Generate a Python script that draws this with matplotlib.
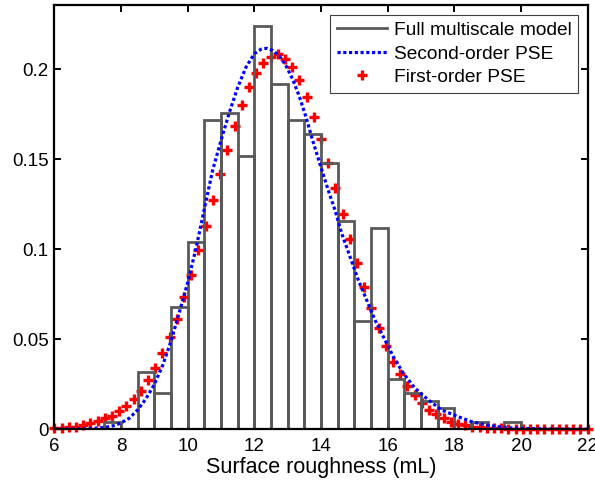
# roughness_pdf.py

import matplotlib
matplotlib.use('Agg')
import matplotlib.pyplot as plt
from matplotlib.lines import Line2D

# Histogram of the full multiscale model (left bin edges, bin width 0.5)
bin_left = [7.5, 8.0, 8.5, 9.0, 9.5, 10.0, 10.5, 11.0, 11.5, 12.0, 12.5, 13.0, 13.5,
            14.0, 14.5, 15.0, 15.5, 16.0, 16.5, 17.0, 17.5, 18.0, 18.5, 19.0, 19.5]
bin_height = [0.004, 0.0, 0.032, 0.020, 0.068, 0.104, 0.172, 0.176, 0.152, 0.224, 0.192, 0.172, 0.164,
              0.148, 0.116, 0.060, 0.112, 0.028, 0.020, 0.016, 0.012, 0.0, 0.004, 0.0, 0.004]
bin_width = 0.5

# Second-order PSE (blue dotted curve)
pse2_x = [6.0, 6.5, 7.0, 7.5, 7.75, 8.0, 8.25, 8.5, 8.75, 9.0, 9.25, 9.5, 9.75, 10.0,
          10.25, 10.5, 10.75, 11.0, 11.25, 11.5, 11.75, 12.0, 12.2, 12.37, 12.55, 12.75,
          12.95, 13.15, 13.35, 13.55, 13.75, 14.0, 14.25, 14.42, 14.62, 14.87, 15.12, 15.37,
          15.62, 15.92, 16.17, 16.47, 16.82, 17.22, 17.62, 18.12, 18.52, 19.0, 19.5, 20.0,
          21.0, 22.0]
pse2_y = [0.0, 0.0001, 0.0003, 0.0010, 0.0019, 0.0035, 0.0062, 0.0108, 0.0170, 0.0250,
          0.0355, 0.0490, 0.0650, 0.0815, 0.1005, 0.1225, 0.1440, 0.1605, 0.1760, 0.1900,
          0.2012, 0.2087, 0.2112, 0.2117, 0.2105, 0.2075, 0.2020, 0.1945, 0.1850, 0.1735,
          0.1605, 0.1455, 0.1310, 0.1218, 0.1089, 0.0959, 0.0829, 0.0718, 0.0607, 0.0496,
          0.0403, 0.0311, 0.0228, 0.0163, 0.0107, 0.0070, 0.0042, 0.0022, 0.0010, 0.0005,
          0.0001, 0.0]

# First-order PSE (red plus markers)
pse1_x = [6.00, 6.22, 6.43, 6.65, 6.86, 7.08, 7.30, 7.51, 7.73, 7.95, 8.16, 8.38, 8.59,
          8.81, 9.03, 9.24, 9.46, 9.68, 9.89, 10.11, 10.32, 10.54, 10.76, 10.97, 11.19,
          11.41, 11.62, 11.84, 12.05, 12.27, 12.49, 12.70, 12.92, 13.14, 13.35, 13.57,
          13.78, 14.00, 14.22, 14.43, 14.65, 14.86, 15.08, 15.30, 15.51, 15.73, 15.95,
          16.16, 16.38, 16.59, 16.81, 17.03, 17.24, 17.46, 17.68, 17.89, 18.11, 18.32,
          18.54, 18.76, 18.97, 19.19, 19.41, 19.62, 19.84, 20.05, 20.27, 20.49, 20.70,
          20.92, 21.14, 21.35, 21.57, 21.78, 22.00]
pse1_y = [0.0007, 0.0009, 0.0011, 0.0015, 0.0024, 0.0033, 0.0046, 0.0061, 0.0076, 0.0100,
          0.0129, 0.0167, 0.0213, 0.0274, 0.0342, 0.0422, 0.0511, 0.0612, 0.0735, 0.0858,
          0.0994, 0.1130, 0.1273, 0.1418, 0.1552, 0.1685, 0.1800, 0.1900, 0.1981, 0.2037,
          0.2069, 0.2083, 0.2057, 0.2014, 0.1940, 0.1848, 0.1737, 0.1611, 0.1478, 0.1339,
          0.1198, 0.1056, 0.0922, 0.0792, 0.0672, 0.0563, 0.0465, 0.0374, 0.0305, 0.0241,
          0.0189, 0.0144, 0.0110, 0.0083, 0.0061, 0.0043, 0.0032, 0.0022, 0.0015, 0.0011,
          0.0008, 0.0006, 0.0005, 0.0004, 0.0004, 0.0003, 0.0003, 0.0003, 0.0002, 0.0002,
          0.0002, 0.0002, 0.0001, 0.0001, 0.0001]

xticks = [6, 8, 10, 12, 14, 16, 18, 20, 22]
yticks = [0, 0.05, 0.1, 0.15, 0.2]
ytick_labels = ['0', '0.05', '0.1', '0.15', '0.2']

BAR_GRAY = '#595959'


def make_plot():
    plt.rcParams['font.family'] = ['Liberation Sans', 'DejaVu Sans']

    fig = plt.figure(figsize=(5.95, 4.84), dpi=100)
    ax = fig.add_axes([0.0913, 0.113, 0.8964, 0.876])

    # red markers below the bar outlines, like the original
    ax.plot(pse1_x, pse1_y, linestyle='none', marker='+', color='red',
            markersize=7, markeredgewidth=2.4, zorder=2, clip_on=False)

    # white bar bodies, then outlines on top of the markers
    ax.bar(bin_left, bin_height, width=bin_width, align='edge',
           color='white', edgecolor='none', zorder=1)
    ax.bar(bin_left, bin_height, width=bin_width, align='edge',
           fill=False, edgecolor=BAR_GRAY, linewidth=2.0, zorder=3)

    ax.plot(pse2_x, pse2_y, color='#0000ff', linestyle=(0, (1, 0.8)),
            linewidth=2.3, zorder=4)

    ax.set_xlim(6, 22)
    ax.set_ylim(0, 0.2356)
    ax.set_xticks(xticks)
    ax.set_yticks(yticks)
    ax.set_yticklabels(ytick_labels)
    ax.tick_params(direction='in', length=5, width=1.4, labelsize=13.5,
                   top=True, right=True, pad=4)
    ax.tick_params(axis='x', pad=6)
    for side in ax.spines.values():
        side.set_linewidth(1.6)
        side.set_zorder(5)

    ax.set_xlabel('Surface roughness (mL)', fontsize=15.5, labelpad=2)

    handles = [
        Line2D([], [], color=BAR_GRAY, linewidth=2.0),
        Line2D([], [], color='#0000ff', linestyle=(0, (1, 0.8)), linewidth=2.3),
        Line2D([], [], color='red', linestyle='none', marker='+',
               markersize=7, markeredgewidth=2.4),
    ]
    labels = ['Full multiscale model', 'Second-order PSE', 'First-order PSE']
    leg = ax.legend(handles, labels, loc='upper right', fontsize=13.8,
                    fancybox=False, framealpha=1, edgecolor='#404040',
                    handlelength=2.6, handletextpad=0.35, labelspacing=0.32,
                    borderaxespad=0.5, borderpad=0.35)
    leg.get_frame().set_linewidth(0.8)
    leg.set_zorder(6)

    fig.savefig('out.png', dpi=100)


def main():
    make_plot()


if __name__ == "__main__":
    main()
